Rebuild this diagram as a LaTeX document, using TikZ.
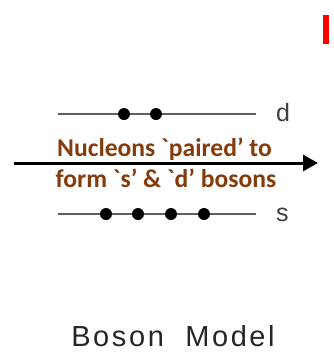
\documentclass[tikz,border=0pt]{standalone}
\usepackage{fontspec}
\setmainfont{Carlito}
\newfontfamily\labelfont{Liberation Sans}
\usetikzlibrary{arrows.meta,positioning}
\definecolor{textbrown}{RGB}{132,60,12}
\definecolor{levelgray}{RGB}{95,95,95}

\begin{document}
\begin{tikzpicture}[x=1pt,y=-1pt,
  level/.style={levelgray,line width=2.2pt},
  boson/.style={circle,fill=black,inner sep=0pt,minimum size=12pt},
  lvllabel/.style={font=\labelfont\fontsize{25}{25}\selectfont,text=black!75,anchor=base west,inner sep=0pt},
  pairtext/.style={font=\bfseries\fontsize{25.6}{31}\selectfont,text=textbrown,anchor=base,inner sep=0pt}]
  \useasboundingbox (0,0) rectangle (334,354);
  % red mark, top right
  \fill[red] (323,15) rectangle (329,44);

  % d level with two bosons
  \coordinate (dL) at (58,114);
  \coordinate (dR) at (256,114);
  \draw[level] (dL) -- (dR);
  \node[lvllabel] (dlab) at (276,121) {d};
  \foreach \x [count=\i] in {124,156}
    \node[boson] (d\i) at (\x,114) {};

  % s level with four bosons
  \coordinate (sL) at (58,214);
  \coordinate (sR) at (256,214);
  \draw[level] (sL) -- (sR);
  \node[lvllabel] (slab) at (276,221) {s};
  \foreach \x [count=\i] in {106,138,171,204}
    \node[boson] (s\i) at (\x,214) {};

  % pairing arrow
  \coordinate (arrL) at (14,163);
  \coordinate (arrR) at (318,163);
  \draw[-{Triangle[length=15pt,width=16pt]},line width=3pt] (arrL) -- (arrR);
  \node[pairtext] (pairA) at (164.5,156) {Nucleons \textasciigrave paired' to};
  \node[pairtext] (pairB) at (166,187) {form \textasciigrave s' \& \textasciigrave d' bosons};

  \node[font=\labelfont\addfontfeature{LetterSpace=9}\fontsize{29}{29}\selectfont,text=black!85,anchor=base,inner sep=0pt]
    (title) at (173,346) {Boson\ \ Model};
\end{tikzpicture}
\end{document}
